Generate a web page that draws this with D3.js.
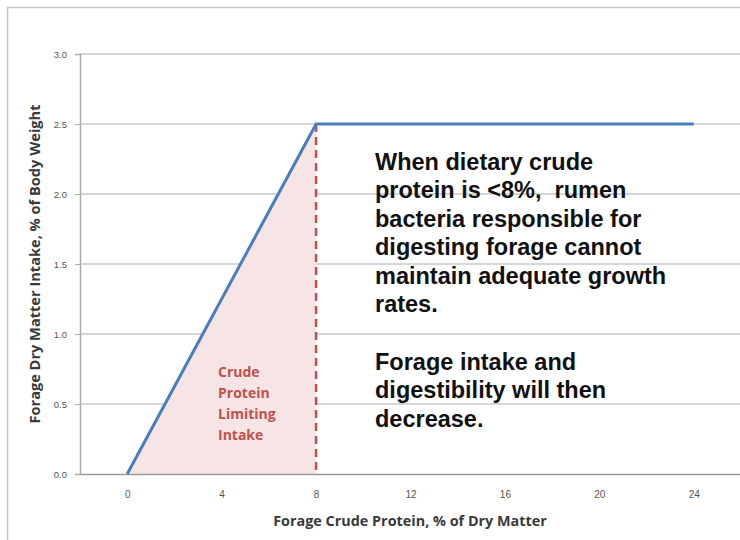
<!DOCTYPE html>
<html lang="en">
<head>
    <meta charset="UTF-8">
    <title>forage-intake</title>
    <script src="https://cdn.jsdelivr.net/npm/d3@7/dist/d3.min.js"></script>
    <style>
        body { margin: 0; background: #fff; }
        svg { display: block; }
        .tick text { font-family: "Liberation Sans", Arial, sans-serif; fill: #555; }
    </style>
</head>
<body>
<svg class="chart"></svg>
<script>
    // data
    var proteinPct = [0, 8, 24];
    var intakePct = [0, 2.5, 2.5];
    var limitX = 8;
    var xTicks = [0, 4, 8, 12, 16, 20, 24];
    var yTicks = [0, 0.5, 1.0, 1.5, 2.0, 2.5, 3.0];
    var zoneLabel = ["Crude", "Protein", "Limiting", "Intake"];
    var noteLines = ["When dietary crude", "protein is <8%,  rumen", "bacteria responsible for",
        "digesting forage cannot", "maintain adequate growth", "rates."];
    var noteLines2 = ["Forage intake and", "digestibility will then", "decrease."];

    var width = 740, height = 540;
    var margins = { top: 54, right: 0, bottom: 66, left: 80 };

    var svg = d3.select('.chart').attr('width', width).attr('height', height);

    // outer frame (the chart box runs off the right and bottom edges)
    svg.append('path')
        .attr('d', 'M7.5,560 V7.5 H760')
        .attr('fill', 'none')
        .attr('stroke', '#c4c4c4')
        .attr('stroke-width', 1.5);

    var x = d3.scaleLinear().domain([-2, 26]).range([margins.left, margins.left + 661]);
    var y = d3.scaleLinear().domain([0, 3]).range([height - margins.bottom, margins.top]);

    // gridlines
    svg.append('g').selectAll('line')
        .data(yTicks.slice(1))
        .enter().append('line')
        .attr('x1', margins.left).attr('x2', width)
        .attr('y1', function (d) { return y(d); })
        .attr('y2', function (d) { return y(d); })
        .attr('stroke', '#c8c8c8')
        .attr('stroke-width', 1.5);

    // shaded limiting zone
    var zone = [[0, 0], [limitX, intakePct[1]], [limitX, 0]];
    svg.append('path')
        .datum(zone)
        .attr('d', d3.line().x(function (d) { return x(d[0]); }).y(function (d) { return y(d[1]); }))
        .attr('fill', '#f7e4e4');

    // y axis
    var yAxis = svg.append('g')
        .attr('transform', 'translate(' + margins.left + ',0)')
        .call(d3.axisLeft(y).tickValues(yTicks).tickFormat(d3.format('.1f')).tickSize(5).tickPadding(8));
    yAxis.select('.domain').attr('stroke', '#aaa').attr('stroke-width', 1.5);
    yAxis.selectAll('.tick line').attr('stroke', '#aaa');
    yAxis.selectAll('.tick text').attr('font-size', 9.5);

    // x axis
    var xAxis = svg.append('g')
        .attr('transform', 'translate(0,' + y(0) + ')')
        .call(d3.axisBottom(x).tickValues(xTicks).tickSize(0).tickPadding(17));
    xAxis.select('.domain').attr('stroke', '#9a9a9a').attr('stroke-width', 1.5);
    xAxis.selectAll('.tick text').attr('font-size', 10);

    // dashed limit line
    svg.append('line')
        .attr('x1', x(limitX)).attr('x2', x(limitX))
        .attr('y1', y(intakePct[1])).attr('y2', y(0))
        .attr('stroke', '#c0504d')
        .attr('stroke-width', 2.5)
        .attr('stroke-dasharray', '8,5');

    // intake line
    svg.append('path')
        .datum(proteinPct.map(function (p, i) { return [p, intakePct[i]]; }))
        .attr('d', d3.line().x(function (d) { return x(d[0]); }).y(function (d) { return y(d[1]); }))
        .attr('fill', 'none')
        .attr('stroke', '#4a7ebb')
        .attr('stroke-width', 3);

    // zone label
    svg.append('g').selectAll('text')
        .data(zoneLabel)
        .enter().append('text')
        .attr('x', 218)
        .attr('y', function (d, i) { return 377 + i * 21; })
        .attr('font-family', '"Open Sans", sans-serif')
        .attr('font-size', 14)
        .attr('font-weight', 'bold')
        .attr('fill', '#c0504d')
        .text(function (d) { return d; });

    // notes
    svg.append('g').selectAll('text')
        .data(noteLines)
        .enter().append('text')
        .attr('x', 375)
        .attr('y', function (d, i) { return 170 + i * 28.4; })
        .attr('font-family', '"Liberation Sans", Arial, sans-serif')
        .attr('font-size', 23.5)
        .attr('font-weight', 'bold')
        .attr('fill', '#111')
        .style('white-space', 'pre')
        .text(function (d) { return d; });

    svg.append('g').selectAll('text')
        .data(noteLines2)
        .enter().append('text')
        .attr('x', 375)
        .attr('y', function (d, i) { return 370 + i * 28.4; })
        .attr('font-family', '"Liberation Sans", Arial, sans-serif')
        .attr('font-size', 23.5)
        .attr('font-weight', 'bold')
        .attr('fill', '#111')
        .text(function (d) { return d; });

    // axis titles
    svg.append('text')
        .attr('x', (margins.left + width) / 2)
        .attr('y', 526)
        .attr('text-anchor', 'middle')
        .attr('font-family', '"Open Sans", sans-serif')
        .attr('font-size', 14.4)
        .attr('font-weight', 'bold')
        .attr('fill', '#3a3a3a')
        .text('Forage Crude Protein, % of Dry Matter');

    svg.append('text')
        .attr('transform', 'translate(40,' + y(1.5) + ') rotate(-90)')
        .attr('text-anchor', 'middle')
        .attr('font-family', '"Open Sans", sans-serif')
        .attr('font-size', 14.6)
        .attr('font-weight', 'bold')
        .attr('fill', '#3a3a3a')
        .text('Forage Dry Matter Intake, % of Body Weight');
</script>
</body>
</html>
